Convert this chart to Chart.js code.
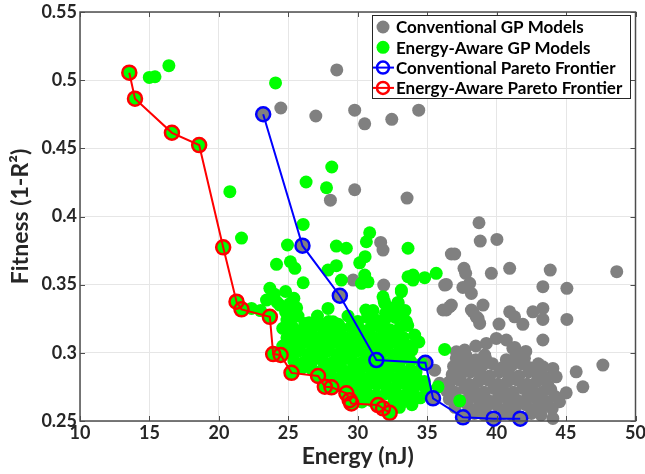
<!DOCTYPE html>
<html><head><meta charset="utf-8">
<script src="https://cdn.jsdelivr.net/npm/chart.js@4.4.1/dist/chart.umd.min.js"></script>
<style>html,body{margin:0;padding:0;background:#fff;}</style>
</head><body>
<canvas id="c" width="645" height="474"></canvas>
<script>
const xTicks = [10, 15, 20, 25, 30, 35, 40, 45, 50];
const yTicks = [0.25, 0.3, 0.35, 0.4, 0.45, 0.5, 0.55];
const seriesLabels = ['Conventional GP Models', 'Energy-Aware GP Models', 'Conventional Pareto Frontier', 'Energy-Aware Pareto Frontier'];

const convParetoX = [23.19, 26.02, 28.71, 31.34, 34.87, 35.42, 37.58, 39.78, 41.70];
const convParetoY = [0.475, 0.3786, 0.3419, 0.2947, 0.2927, 0.2666, 0.2527, 0.2517, 0.2517];
const awareParetoX = [13.55, 13.96, 16.62, 18.58, 20.31, 21.27, 21.63, 23.67, 23.91, 24.45, 25.23, 27.14, 27.63, 28.11, 29.18, 29.42, 29.54, 31.46, 31.82, 32.30];
const awareParetoY = [0.5055, 0.4864, 0.4614, 0.4524, 0.3774, 0.3375, 0.3319, 0.3264, 0.2991, 0.2984, 0.2853, 0.2830, 0.2751, 0.2747, 0.2703, 0.2653, 0.2629, 0.2617, 0.2593, 0.2560];

const convModels = [
[28.49,0.5075],[24.46,0.4796],[26.98,0.4737],[29.78,0.478],[30.5,0.468],[32.45,0.4713],[34.39,0.478],
[29.78,0.4196],[28.03,0.412],[33.55,0.4135],[23.19,0.475],[26.02,0.3786],[28.71,0.3419],
[31.65,0.381],[31.82,0.3754],[29.67,0.3534],[31.87,0.3497],[32.9,0.3363],
[38.73,0.3954],[38.82,0.382],[40.02,0.3832],[36.98,0.3725],[36.74,0.3725],[37.65,0.362],[37.77,0.3583],
[39.62,0.3583],[40.94,0.362],[43.86,0.3607],[48.65,0.3595],[36.38,0.3502],[36.26,0.3497],[37.57,0.348],
[38.06,0.351],[38.18,0.3436],[43.33,0.3485],[45.06,0.3473],[39.02,0.335],[38.3,0.330],[38.18,0.3314],
[36.14,0.3314],[36.62,0.3338],[36.38,0.3314],[36.74,0.335],[38.53,0.3264],[38.78,0.3216],[38.66,0.3253],
[40.94,0.3301],[41.29,0.3264],[41.89,0.3209],[42.61,0.3301],[43.33,0.3326],[43.33,0.3245],[45.06,0.3245],
[40.17,0.3211],[43.33,0.3094],[39.26,0.3069],[39.98,0.3106],[40.7,0.3094],[41.17,0.3033],[37.1,0.3008],
[39.14,0.2984],[47.65,0.291],[45.73,0.2861],[46.21,0.2751],[45.01,0.2707],[44.05,0.2886],[43.33,0.2898],
[44.29,0.2824],[44.53,0.2641],[44.05,0.2519],[35.54,0.2873],[35.9,0.2776],[36.62,0.2788],[37.22,0.2849],
[37.82,0.2898],[38.29,0.291],[34.87,0.2927],[35.42,0.2666],[37.58,0.2527],[39.78,0.2517],[41.7,0.2517],[31.34,0.2947],
[37.7,0.302],[38.5,0.305],[41.3,0.304],[42.1,0.301],
[37.1,0.296],[37.8,0.298],[38.5,0.295],[39.2,0.296],[40.7,0.295],[41.4,0.298],[42.0,0.296],
[36.9,0.290],[37.6,0.292],[38.3,0.289],[39.0,0.291],[39.7,0.292],[40.4,0.289],[41.1,0.291],[41.8,0.292],[42.4,0.289],[43.0,0.292],
[36.8,0.284],[37.4,0.283],[38.1,0.286],[38.8,0.285],[39.5,0.283],[40.2,0.286],[40.9,0.284],[41.6,0.283],[42.3,0.286],[43.0,0.284],[43.5,0.282],
[36.6,0.278],[37.3,0.280],[38.0,0.277],[38.7,0.279],[39.4,0.280],[40.1,0.277],[40.8,0.279],[41.5,0.280],[42.2,0.277],[42.9,0.279],[43.7,0.276],
[36.4,0.272],[37.0,0.271],[37.7,0.274],[38.4,0.272],[39.1,0.271],[39.8,0.274],[40.5,0.272],[41.2,0.271],[41.9,0.274],[42.6,0.272],[43.3,0.271],[43.9,0.273],
[36.6,0.266],[37.3,0.265],[38.0,0.267],[38.7,0.266],[39.4,0.265],[40.1,0.267],[40.8,0.266],[41.5,0.265],[42.2,0.267],[42.9,0.266],[43.6,0.264],[44.2,0.268],
[37.0,0.260],[37.9,0.262],[38.6,0.259],[39.3,0.261],[40.0,0.262],[40.7,0.259],[41.4,0.261],[42.1,0.262],[42.8,0.259],[43.4,0.261],[44.0,0.259],
[38.4,0.2555],[39.1,0.2545],[40.5,0.2555],[41.1,0.2545],[42.5,0.2555],[43.2,0.2545]
];

const awareModels = [
[13.55,0.5055],[13.96,0.4864],[14.99,0.502],[15.40,0.5025],[16.40,0.5106],[16.62,0.4614],[18.58,0.4524],
[24.08,0.498],[28.13,0.4363],[26.28,0.4253],[27.75,0.4211],[20.79,0.4182],[20.31,0.3774],[21.63,0.3842],
[26.07,0.3942],[24.94,0.3791],[24.15,0.3649],[25.15,0.3668],[25.47,0.362],[26.07,0.3514],[28.46,0.3783],
[29.18,0.3767],[30.86,0.3881],[30.62,0.3815],[30.53,0.3705],[30.14,0.366],[33.62,0.3767],[28.46,0.3639],
[27.86,0.3607],[28.82,0.3534],[30.50,0.357],[30.74,0.3521],[30.27,0.351],[33.62,0.3558],[33.98,0.357],
[33.14,0.346],[33.02,0.3301],[31.82,0.3411],[31.94,0.3363],[30.58,0.3314],[31.34,0.3228],[27.86,0.3326],
[23.67,0.3473],[23.43,0.3387],[22.35,0.3326],[21.27,0.3375],[21.63,0.3319],[23.67,0.3264],[24.39,0.335],
[24.87,0.3301],[25.10,0.3253],[26.19,0.3216],[27.27,0.3216],[28.22,0.3228],[35.65,0.3583],[34.82,0.3551],
[33.98,0.3534],[33.14,0.3448],[36.26,0.3025],[35.78,0.2751],[37.34,0.2648],[31.34,0.2947],
[23.91,0.2991],[24.45,0.2984],[25.23,0.2853],[27.14,0.283],[27.63,0.2751],[28.11,0.2747],[29.18,0.2703],
[29.42,0.2653],[29.54,0.2629],[31.46,0.2617],[31.82,0.2593],[32.30,0.256],
[24.0,0.343],[24.8,0.345],[25.4,0.340],
[24.2,0.337],[25.1,0.336],[31.9,0.338],[32.9,0.337],
[23.0,0.331],[24.8,0.330],[25.6,0.333],[31.1,0.331],[32.0,0.329],[32.6,0.333],[33.4,0.331],
[24.9,0.324],[25.7,0.327],[26.5,0.322],[27.1,0.327],[27.9,0.323],[28.6,0.321],[29.3,0.327],[30.0,0.323],[30.7,0.326],[31.3,0.324],[32.0,0.325],[32.7,0.326],[33.5,0.323],
[24.6,0.318],[25.3,0.319],[26.0,0.317],[26.7,0.318],[27.4,0.319],[28.1,0.317],[28.8,0.318],[29.5,0.319],[30.2,0.317],[30.9,0.318],[31.6,0.319],[32.3,0.317],[33.0,0.318],[33.6,0.320],
[24.9,0.311],[25.6,0.313],[26.3,0.312],[27.0,0.311],[27.7,0.313],[28.4,0.312],[29.1,0.311],[29.8,0.313],[30.5,0.312],[31.2,0.311],[31.9,0.313],[32.6,0.312],[33.3,0.311],[34.1,0.313],
[24.6,0.305],[25.3,0.306],[26.0,0.307],[26.7,0.306],[27.4,0.305],[28.1,0.307],[28.8,0.306],[29.5,0.305],[30.2,0.307],[30.9,0.306],[31.6,0.305],[32.3,0.307],[33.0,0.306],[33.7,0.305],[34.4,0.308],
[25.0,0.300],[25.7,0.301],[26.4,0.299],[27.1,0.300],[27.8,0.301],[28.5,0.299],[29.2,0.300],[29.9,0.301],[30.6,0.299],[31.3,0.300],[32.0,0.301],[32.7,0.299],[33.4,0.300],[33.9,0.302],
[25.4,0.294],[26.1,0.293],[26.8,0.295],[27.5,0.294],[28.2,0.293],[28.9,0.295],[29.6,0.294],[30.3,0.293],[31.0,0.295],[31.7,0.294],[32.4,0.293],[33.1,0.295],[33.8,0.294],[34.6,0.292],
[26.0,0.289],[26.7,0.288],[27.4,0.287],[28.1,0.288],[28.8,0.289],[29.5,0.287],[30.2,0.288],[30.9,0.289],[31.6,0.287],[32.3,0.288],[33.0,0.289],[33.7,0.287],[34.2,0.286],
[27.9,0.282],[28.6,0.281],[29.3,0.283],[30.0,0.282],[30.7,0.281],[31.4,0.283],[32.1,0.282],[32.8,0.281],[33.5,0.283],[34.2,0.282],[34.8,0.279],
[28.6,0.276],[29.3,0.277],[30.0,0.275],[30.7,0.276],[31.4,0.277],[32.1,0.275],[32.8,0.276],[33.5,0.277],[34.1,0.275],[34.9,0.274],
[29.9,0.270],[30.6,0.271],[31.3,0.269],[32.0,0.270],[32.7,0.271],[33.4,0.269],[34.0,0.270],[34.5,0.267],
[30.3,0.264],[31.0,0.265],[32.6,0.264],[33.3,0.265],[33.9,0.262],
[32.3,0.259],[33.0,0.260]
];

const GRAY = '#808080', GREEN = '#00ff00', BLUE = '#0000ff', RED = '#ff0000';
const TEXT = '#262626', AXIS = '#4d4d4d';
Chart.defaults.font.family = 'Lato';

const pairs = arr => arr.map(p => ({x: p[0], y: p[1]}));
const zipXY = (xs, ys) => xs.map((x, i) => ({x, y: ys[i]}));

const framePlugin = {
  id: 'frame',
  afterDatasetsDraw(chart) {
    const {ctx, chartArea: a, scales} = chart;
    ctx.save();
    ctx.strokeStyle = AXIS;
    ctx.lineWidth = 1.5;
    ctx.strokeRect(a.left, a.top, a.right - a.left, a.bottom - a.top);
    ctx.lineWidth = 1;
    ctx.beginPath();
    xTicks.forEach(v => {
      const px = Math.round(scales.x.getPixelForValue(v)) + 0.5;
      ctx.moveTo(px, a.bottom); ctx.lineTo(px, a.bottom - 5);
      ctx.moveTo(px, a.top); ctx.lineTo(px, a.top + 5);
    });
    yTicks.forEach(v => {
      const py = Math.round(scales.y.getPixelForValue(v)) + 0.5;
      ctx.moveTo(a.left, py); ctx.lineTo(a.left + 5, py);
      ctx.moveTo(a.right, py); ctx.lineTo(a.right - 5, py);
    });
    ctx.stroke();
    ctx.restore();
  }
};

const legendPlugin = {
  id: 'boxLegend',
  afterDraw(chart) {
    const {ctx} = chart;
    const bx = 372, by = 15, bw = 258, bh = 83;
    ctx.save();
    ctx.fillStyle = '#fff';
    ctx.fillRect(bx, by, bw, bh);
    ctx.strokeStyle = '#262626';
    ctx.lineWidth = 1;
    ctx.strokeRect(bx + 0.5, by + 0.5, bw, bh);
    ctx.font = 'bold 17px Lato';
    ctx.textBaseline = 'middle';
    chart.data.datasets.forEach((ds, i) => {
      const cy = by + 12 + i * 20.3;
      const cx = bx + 11;
      if (ds.showLine) {
        ctx.strokeStyle = ds.borderColor;
        ctx.lineWidth = 2;
        ctx.beginPath(); ctx.moveTo(bx + 1, cy); ctx.lineTo(bx + 22, cy); ctx.stroke();
        ctx.lineWidth = 2.5;
        ctx.beginPath(); ctx.arc(cx, cy, 6, 0, Math.PI * 2); ctx.stroke();
      } else {
        ctx.fillStyle = ds.backgroundColor;
        ctx.beginPath(); ctx.arc(cx, cy, 6.5, 0, Math.PI * 2); ctx.fill();
      }
      ctx.fillStyle = '#000';
      ctx.fillText(ds.label, bx + 24, cy + 1);
    });
    ctx.restore();
  }
};

new Chart(document.getElementById('c'), {
  type: 'scatter',
  data: {
    datasets: [
      {label: seriesLabels[0], data: pairs(convModels), backgroundColor: GRAY, borderColor: GRAY, borderWidth: 0, pointRadius: 6.5, order: 4, clip: false},
      {label: seriesLabels[1], data: pairs(awareModels), backgroundColor: GREEN, borderColor: GREEN, borderWidth: 0, pointRadius: 6.5, order: 3, clip: false},
      {label: seriesLabels[2], data: zipXY(convParetoX, convParetoY), showLine: true, borderColor: BLUE, borderWidth: 2,
       pointBorderColor: BLUE, pointBackgroundColor: 'rgba(0,0,0,0)', pointBorderWidth: 2.5, pointRadius: 7, order: 2, clip: false},
      {label: seriesLabels[3], data: zipXY(awareParetoX, awareParetoY), showLine: true, borderColor: RED, borderWidth: 2,
       pointBorderColor: RED, pointBackgroundColor: 'rgba(0,0,0,0)', pointBorderWidth: 2.5, pointRadius: 7, order: 1, clip: false}
    ]
  },
  options: {
    responsive: false, animation: false, devicePixelRatio: 1, events: [],
    layout: {padding: {top: 12, right: 9, left: 0, bottom: 0}},
    plugins: {legend: {display: false}, tooltip: {enabled: false}},
    scales: {
      x: {
        type: 'linear', min: 10, max: 50,
        afterBuildTicks: s => { s.ticks = xTicks.map(v => ({value: v})); },
        afterFit: s => { s.height = 53; s.paddingLeft = 0; s.paddingRight = 0; },
        ticks: {font: {size: 18, weight: 'bold'}, color: TEXT, padding: 1, maxRotation: 0},
        grid: {color: '#e6e6e6', lineWidth: 1, drawTicks: false},
        border: {display: false},
        title: {display: true, text: 'Energy (nJ)', font: {size: 23, weight: 'bold'}, color: TEXT, padding: {top: 0, bottom: 4}}
      },
      y: {
        type: 'linear', min: 0.25, max: 0.55,
        afterBuildTicks: s => { s.ticks = yTicks.map(v => ({value: v})); },
        afterFit: s => { s.width = 80; s.paddingTop = 0; s.paddingBottom = 0; },
        ticks: {font: {size: 18, weight: 'bold'}, color: TEXT, padding: 3, callback: v => String(+v.toFixed(2))},
        grid: {color: '#e6e6e6', lineWidth: 1, drawTicks: false},
        border: {display: false},
        title: {display: true, text: 'Fitness (1-R²)', font: {size: 23, weight: 'bold'}, color: TEXT, padding: {top: 7, bottom: 0}}
      }
    }
  },
  plugins: [framePlugin, legendPlugin]
});
</script>
</body></html>
